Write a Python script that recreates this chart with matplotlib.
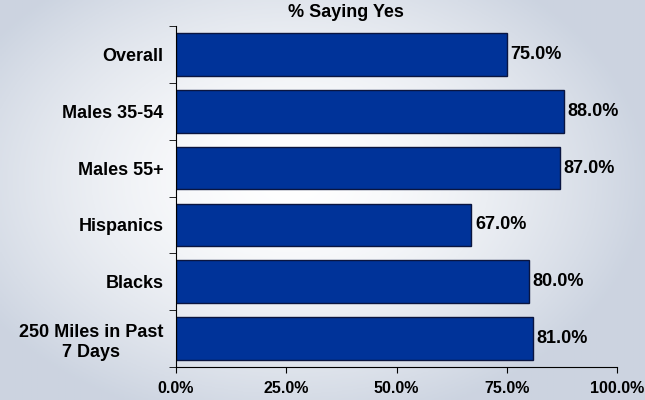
import numpy as np
import matplotlib.pyplot as plt

categories = ['Overall', 'Males 35-54', 'Males 55+', 'Hispanics', 'Blacks',
              '250 Miles in Past\n7 Days']
values = [75.0, 88.0, 87.0, 67.0, 80.0, 81.0]
xticks = [0, 25, 50, 75, 100]

plt.rcParams['font.family'] = ['Liberation Sans', 'DejaVu Sans']
plt.rcParams['font.weight'] = 'bold'

fig = plt.figure(figsize=(6.45, 4.0), dpi=100)

# soft grey-blue background, brighter in the middle
bg = fig.add_axes([0, 0, 1, 1], zorder=-1)
yy, xx = np.mgrid[-1:1:200j, -1:1:300j]
r = np.clip(np.sqrt(((xx + 0.1) * 0.9) ** 2 + ((yy + 0.1) * 0.8) ** 2), 0, 1)
c0 = np.array([1.0, 1.0, 1.0])
c1 = np.array([0.80, 0.83, 0.88])
img = c0 + (c1 - c0) * (r[..., None] ** 1.6)
bg.imshow(img, aspect='auto', extent=[0, 1, 0, 1])
bg.axis('off')

ax = fig.add_axes([0.2729, 0.0825, 0.6837, 0.8525])
ax.patch.set_alpha(0)
n = len(categories)
pos = np.arange(n)
ax.barh(pos, values, height=0.75, color='#003399', edgecolor='#0a1540', linewidth=1)
for p, v in zip(pos, values):
    ax.text(v + 0.8, p, f'{v:.1f}%', va='center', ha='left', fontsize=13, fontweight='bold')

ax.set_xlim(0, 100)
ax.set_ylim(n - 0.5, -0.5)
ax.set_xticks(xticks)
ax.set_xticklabels([f'{t:.1f}%' for t in xticks], fontsize=11.5, fontweight='bold')
ax.set_yticks(pos)
ax.set_yticklabels(categories, fontsize=13, fontweight='bold', linespacing=1.3,
                   multialignment='center')
ax.set_yticks(np.arange(-0.5, n, 1), minor=True)
ax.tick_params(axis='y', which='major', length=0, pad=9)
ax.tick_params(axis='y', which='minor', length=5, direction='out', color='black')
ax.tick_params(axis='x', length=4, direction='out', pad=6)
for s in ['top', 'right']:
    ax.spines[s].set_visible(False)

fig.text(346 / 645, 0.968, '% Saying Yes', ha='center', va='center',
         fontsize=13, fontweight='bold')

fig.savefig('out.png', dpi=100)
